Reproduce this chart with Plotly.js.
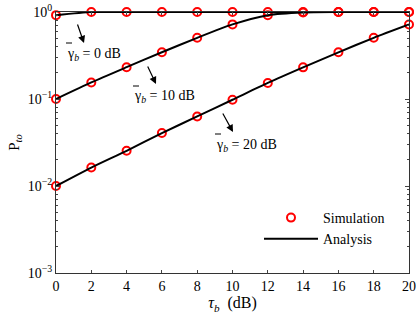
<!DOCTYPE html>
<html>
<head>
<meta charset="utf-8">
<script src="https://cdn.plot.ly/plotly-3.0.1.min.js"></script>
<style>html,body{margin:0;padding:0;background:#fff;}#chart{width:416px;height:319px;}</style>
</head>
<body>
<div id="chart"></div>
<script>
var tau = [0, 2, 4, 6, 8, 10, 12, 14, 16, 18, 20];
var sim0 = [0.92, 1.0, 1.0, 1.0, 1.0, 1.0, 1.0, 1.0, 1.0, 1.0, 1.0];
var sim10 = [0.100, 0.155, 0.232, 0.345, 0.505, 0.72, 0.92, 0.985, 1.0, 1.0, 1.0];
var sim20 = [0.0100, 0.0163, 0.0254, 0.0406, 0.063, 0.098, 0.153, 0.231, 0.344, 0.505, 0.718];
var ana0 = [0.92, 0.999, 1.0, 1.0, 1.0, 1.0, 1.0, 1.0, 1.0, 1.0, 1.0];
var ana10 = [0.100, 0.155, 0.232, 0.345, 0.505, 0.72, 0.92, 0.99, 1.0, 1.0, 1.0];
var ana20 = [0.0100, 0.0163, 0.0254, 0.0406, 0.063, 0.098, 0.153, 0.231, 0.344, 0.505, 0.718];
var gammaLabels = ['0', '10', '20'];
var yTickVals = [0.001, 0.01, 0.1, 1];
var yTickText = ['10<sup>\u22123</sup>', '10<sup>\u22122</sup>', '10<sup>\u22121</sup>', '10<sup>0</sup>'];
var xTickVals = [0, 2, 4, 6, 8, 10, 12, 14, 16, 18, 20];
var minorVals = [];
[0.001, 0.01, 0.1].forEach(function (d) { for (var k = 2; k <= 9; k++) minorVals.push(d * k); });

var font = 'Liberation Serif, Times New Roman, serif';
var simStyle = {symbol: 'circle-open', size: 8, color: '#ff0000', line: {width: 2, color: '#ff0000'}};
var lineStyle = {color: '#000000', width: 2, shape: 'spline', smoothing: 0.6};

function simTrace(y, show) {
  return {x: tau, y: y, type: 'scatter', mode: 'markers', marker: simStyle, name: 'Simulation',
    showlegend: show, cliponaxis: false};
}
function anaTrace(y, show) {
  return {x: tau, y: y, type: 'scatter', mode: 'lines', line: lineStyle, name: 'Analysis',
    showlegend: show, cliponaxis: false};
}
var data = [simTrace(sim0, true), simTrace(sim10, false), simTrace(sim20, false),
  anaTrace(ana0, true), anaTrace(ana10, false), anaTrace(ana20, false)];

var annFont = {family: font, size: 14, color: '#000'};
var L = 56, W = 353, B = 273, H = 261;
function px(x) { return (x - L) / W; }
function py(y) { return (B - y) / H; }
// label left edge / vertical centre, arrow tail & head (pixel positions of the figure)
var labelPos = [[65, 54], [132, 97], [214, 145]];
var arrows = [[[77, 23], [84, 43]], [[147, 65], [156, 84]], [[222, 112], [233, 132]]];
var annotations = [];
var shapes = [];
labelPos.forEach(function (p, i) {
  annotations.push({xref: 'paper', yref: 'paper', x: px(p[0]), y: py(p[1]), xanchor: 'left', yanchor: 'middle',
    text: '\u03b3<sub><i>b</i></sub> = ' + gammaLabels[i] + ' dB', showarrow: false, font: annFont});
  shapes.push({type: 'line', xref: 'paper', yref: 'paper', x0: px(p[0] + 1), x1: px(p[0] + 7),
    y0: py(p[1] - 11), y1: py(p[1] - 11), line: {color: '#000', width: 1}});
});
arrows.forEach(function (a) {
  annotations.push({xref: 'paper', yref: 'paper', x: px(a[1][0]), y: py(a[1][1]), axref: 'paper', ayref: 'paper',
    ax: px(a[0][0]), ay: py(a[0][1]), text: '', showarrow: true, arrowhead: 2, arrowsize: 1.2, arrowwidth: 1.2, arrowcolor: '#000'});
});

var layout = {
  width: 416, height: 319,
  margin: {l: 56, r: 7, t: 12, b: 46},
  paper_bgcolor: '#fff', plot_bgcolor: '#fff',
  font: {family: font, size: 14, color: '#000'},
  showlegend: true,
  legend: {x: px(259), y: py(202), xanchor: 'left', yanchor: 'top', bgcolor: 'rgba(0,0,0,0)',
    itemwidth: 54, font: {family: font, size: 14, color: '#000'}},
  xaxis: {range: [0, 20], tickmode: 'array', tickvals: xTickVals, ticks: 'inside', ticklen: 3,
    showline: true, linecolor: '#333', linewidth: 1, mirror: 'ticks', showgrid: false, zeroline: false,
    tickfont: {family: font, size: 14, color: '#000'},
    title: {text: '<i>\u03c4<sub>b</sub></i>  (dB)', font: {family: font, size: 16, color: '#000'}, standoff: 4}},
  yaxis: {type: 'log', range: [-3, 0], tickmode: 'array', tickvals: yTickVals, ticktext: yTickText,
    ticks: 'inside', ticklen: 4, showline: true, linecolor: '#333', linewidth: 1, mirror: 'ticks',
    showgrid: false, zeroline: false, tickfont: {family: font, size: 14, color: '#000'},
    minor: {tickmode: 'array', tickvals: minorVals, ticks: 'inside', ticklen: 2, showgrid: false},
    title: {text: 'P<sub><i>to</i></sub>', font: {family: font, size: 15, color: '#000'}, standoff: 4}},
  annotations: annotations,
  shapes: shapes
};
Plotly.newPlot('chart', data, layout, {staticPlot: true, displayModeBar: false});
</script>
</body>
</html>
